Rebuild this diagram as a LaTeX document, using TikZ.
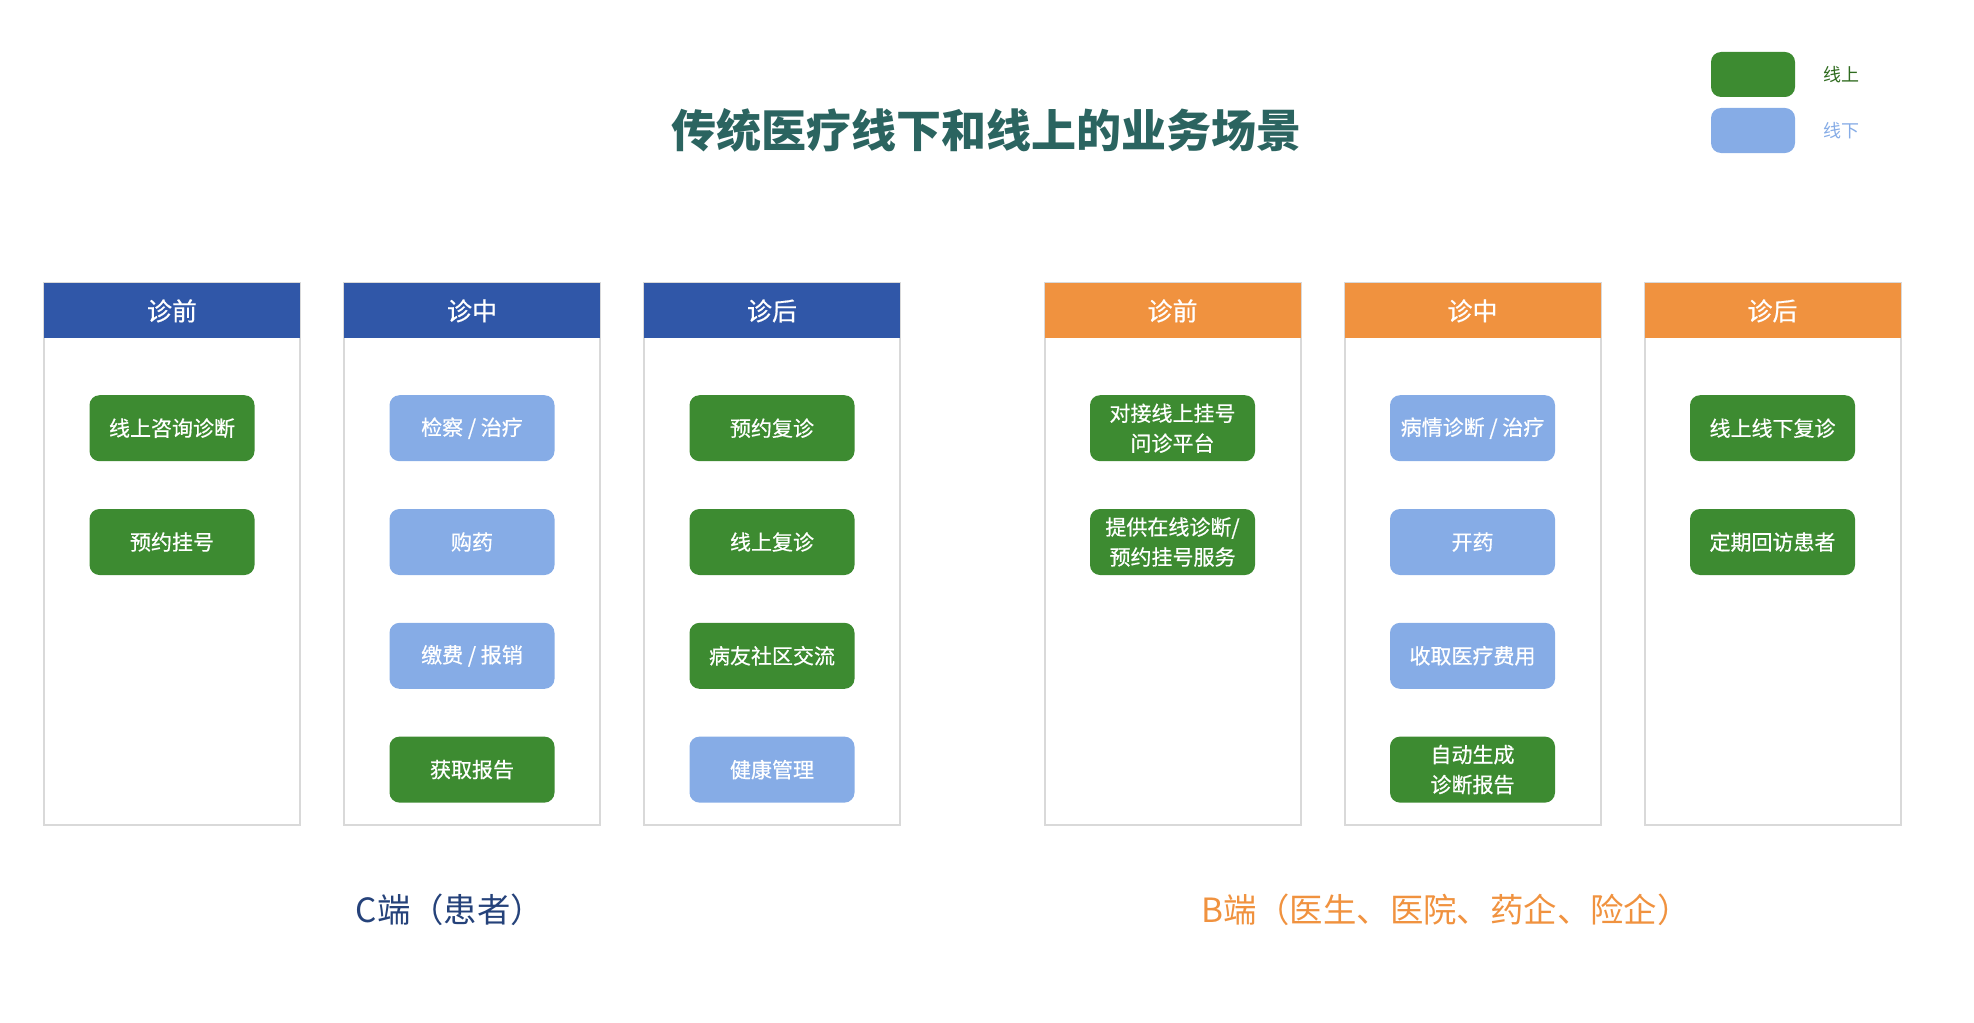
\documentclass[tikz,border=0pt]{standalone}
\usepackage{fontspec}
\setmainfont{Noto Sans CJK SC}
\newfontfamily\medfont{Noto Sans CJK SC}[FakeBold=0.6]
\usepackage{xcolor}
\usetikzlibrary{positioning}
\definecolor{hdblue}{RGB}{48,87,168}
\definecolor{hdorange}{RGB}{240,146,63}
\definecolor{ongreen}{RGB}{61,139,49}
\definecolor{offblue}{RGB}{134,172,230}
\definecolor{titlecol}{RGB}{43,100,96}
\definecolor{ctext}{RGB}{37,66,122}
\definecolor{ontext}{RGB}{47,107,31}

\begin{document}
\begin{tikzpicture}[x=0.5pt, y=-0.5pt,
  col/.style={rectangle, draw=gray!30, line width=1pt, minimum width=128pt, minimum height=271pt, inner sep=0pt, outer sep=0pt},
  head/.style={rectangle, minimum width=128pt, minimum height=27.5pt, inner sep=0pt, text=white, font=\medfont\fontsize{12.5}{14}\selectfont, anchor=north},
  chead/.style={head, fill=hdblue},
  bhead/.style={head, fill=hdorange},
  task/.style={rectangle, rounded corners=5pt, minimum width=82.5pt, minimum height=33pt, inner sep=0pt, text=white, align=center, font=\medfont\fontsize{10.5}{15}\selectfont},
  online/.style={task, fill=ongreen},
  offline/.style={task, fill=offblue},
  legbox/.style={rectangle, rounded corners=5pt, minimum width=42pt, minimum height=22.5pt, inner sep=0pt},
  legtext/.style={inner sep=0pt, font=\fontsize{9}{11}\selectfont},
  side/.style={font=\fontsize{16.7}{20}\selectfont},
  node distance=23.5pt
]
\useasboundingbox (0,0) rectangle (1974,1022);

\node[font=\fontsize{22.5}{27}\selectfont\bfseries, text=titlecol] (title) at (986,130) {传统医疗线下和线上的业务场景};

% legend
\node[legbox, fill=ongreen] (lon) at (1753,74.5) {};
\node[legbox, fill=offblue] (loff) at (1753,130.5) {};
\node[legtext, text=ontext, anchor=west, right=14pt of lon] (lontext) {线上};
\node[legtext, text=offblue, anchor=west, right=14pt of loff] (lofftext) {线下};

% C side
\node[col] (cpre) at (172,554) {};
\node[col, right=22pt of cpre] (cmid) {};
\node[col, right=22pt of cmid] (cpost) {};
\node[chead] (cpreh) at (cpre.north) {诊前};
\node[chead] (cmidh) at (cmid.north) {诊中};
\node[chead] (cposth) at (cpost.north) {诊后};

\node[online, below=28pt of cpreh] (cpre1) {线上咨询诊断};
\node[online, below=of cpre1] (cpre2) {预约挂号};

\node[offline, below=28pt of cmidh] (cmid1) {检察 / 治疗};
\node[offline, below=of cmid1] (cmid2) {购药};
\node[offline, below=of cmid2] (cmid3) {缴费 / 报销};
\node[online, below=of cmid3] (cmid4) {获取报告};

\node[online, below=28pt of cposth] (cpost1) {预约复诊};
\node[online, below=of cpost1] (cpost2) {线上复诊};
\node[online, below=of cpost2] (cpost3) {病友社区交流};
\node[offline, below=of cpost3] (cpost4) {健康管理};

% B side
\node[col] (bpre) at (1172.5,554) {};
\node[col, right=22pt of bpre] (bmid) {};
\node[col, right=22pt of bmid] (bpost) {};
\node[bhead] (bpreh) at (bpre.north) {诊前};
\node[bhead] (bmidh) at (bmid.north) {诊中};
\node[bhead] (bposth) at (bpost.north) {诊后};

\node[online, below=28pt of bpreh] (bpre1) {对接线上挂号\\问诊平台};
\node[online, below=of bpre1] (bpre2) {提供在线诊断/\\预约挂号服务};

\node[offline, below=28pt of bmidh] (bmid1) {病情诊断 / 治疗};
\node[offline, below=of bmid1] (bmid2) {开药};
\node[offline, below=of bmid2] (bmid3) {收取医疗费用};
\node[online, below=of bmid3] (bmid4) {自动生成\\诊断报告};

\node[online, below=28pt of bposth] (bpost1) {线上线下复诊};
\node[online, below=of bpost1] (bpost2) {定期回访患者};

\node[side, text=ctext] (cside) at (450,910) {C端（患者）};
\node[side, text=hdorange] (bside) at (1446,910) {B端（医生、医院、药企、险企）};
\end{tikzpicture}
\end{document}
